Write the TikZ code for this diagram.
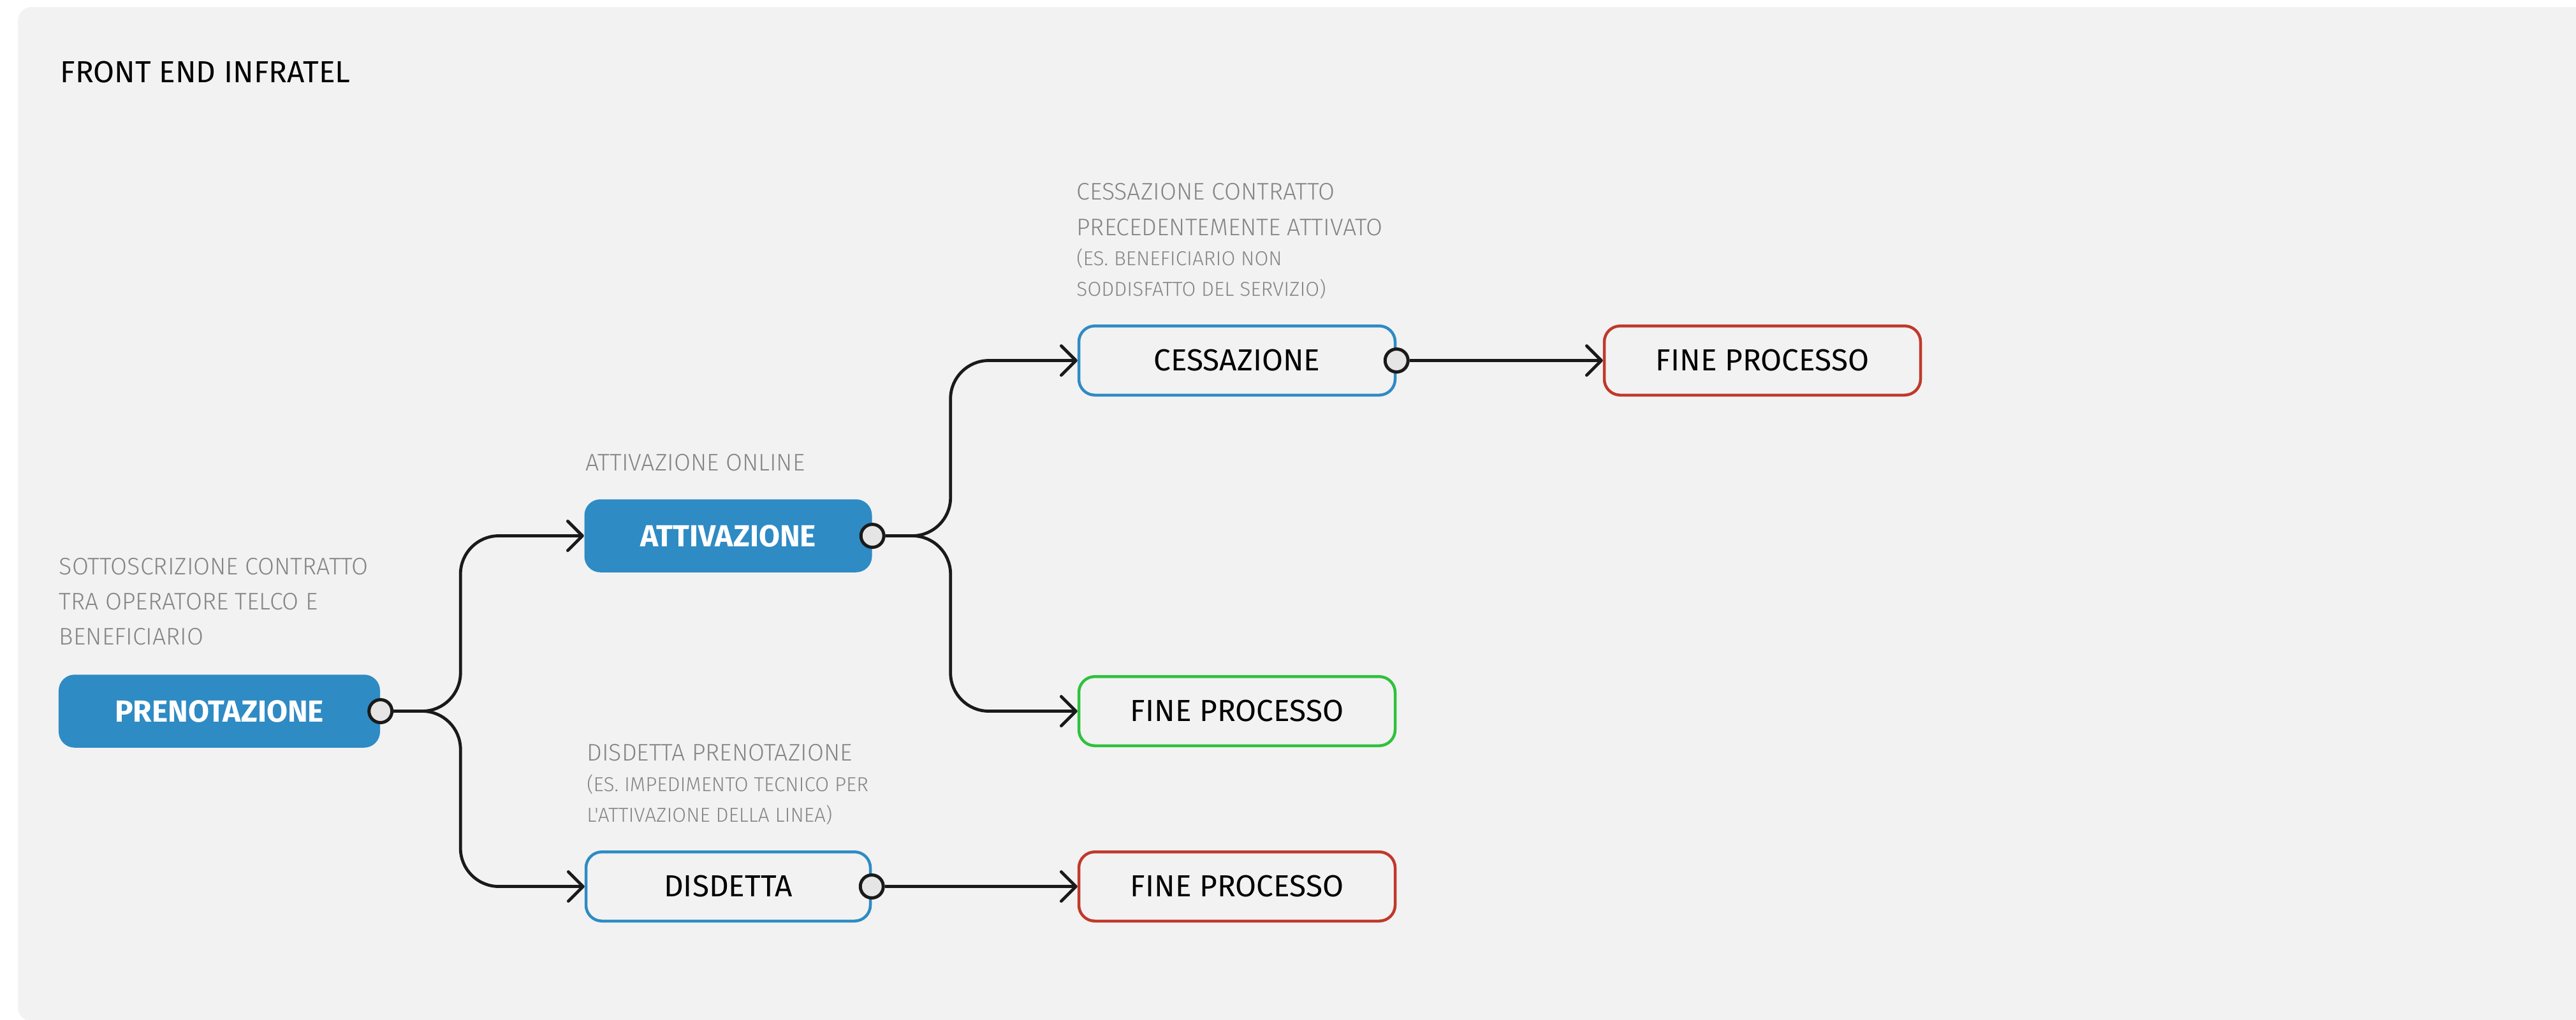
\documentclass[tikz,border=0pt]{standalone}
\usepackage{fontspec}
\setmainfont{Fira Sans}
\newfontfamily\lightfont{Fira Sans Light}
\usetikzlibrary{arrows.meta,positioning}

\definecolor{panelgray}{HTML}{F2F2F2}
\definecolor{boxblue}{HTML}{2E8BC4}
\definecolor{stopred}{HTML}{C0392B}
\definecolor{okgreen}{HTML}{2EC23C}
\definecolor{notegray}{HTML}{858585}
\definecolor{linkblack}{HTML}{1A1A1A}
\definecolor{portgray}{HTML}{E5E5E5}

\tikzset{
  phase/.style={rectangle, rounded corners=2.5mm, inner sep=0pt, font=\fontsize{13.6}{16}\selectfont},
  filled/.style={phase, fill=boxblue, text=white, minimum height=11.45mm, font=\fontsize{13.6}{16}\selectfont\bfseries},
  outlined/.style={phase, draw=#1, line width=0.45mm, fill=panelgray, minimum height=10.85mm},
  note/.style={inner sep=0pt, anchor=north west, align=left, text=notegray, font=\lightfont\fontsize{10.7}{15.7}\selectfont},
  port/.style={circle, draw=linkblack, fill=portgray, line width=0.5mm, minimum size=3.6mm, inner sep=0pt},
  link/.style={draw=linkblack, line width=0.48mm, rounded corners=6mm, -{Straight Barb[length=2.3mm,width=4.6mm,round]}}
}
\newcommand{\smallnote}[1]{{\fontsize{9}{13.6}\selectfont #1}}

\begin{document}
\begin{tikzpicture}[x=1mm, y=-1mm, node distance=27.5mm and 79.8mm, on grid]
    \useasboundingbox (0,0) rectangle (404,159.9);
    \fill[panelgray, rounded corners=2.2mm] (2.8,1.1) rectangle (420,160.2);

    \node[anchor=north west, inner sep=0pt, font=\fontsize{13.6}{16}\selectfont] (title) at (9.4,9.5) {FRONT END INFRATEL};

    % phases
    \node[filled, minimum width=50.4mm] (pren) at (34.4,111.55) {PRENOTAZIONE};
    \node[filled, minimum width=45.1mm] (attiv) [above right=of pren] {ATTIVAZIONE};
    \node[outlined=boxblue, minimum width=44.6mm] (disd) [below right=of pren] {DISDETTA};
    \node[outlined=boxblue, minimum width=49.6mm] (cess) [above right=of attiv] {CESSAZIONE};
    \node[outlined=okgreen, minimum width=49.6mm] (fineOk) [below right=of attiv] {FINE PROCESSO};
    \node[outlined=stopred, minimum width=49.6mm] (fineKo) [right=of disd] {FINE PROCESSO};
    \node[outlined=stopred, minimum width=49.6mm] (fineCess) [right=82.4mm of cess] {FINE PROCESSO};

    % notes
    \node[note] (prenNote) at ([xshift=0.1mm,yshift=18.3mm]pren.north west)
        {SOTTOSCRIZIONE CONTRATTO\\TRA OPERATORE TELCO E\\BENEFICIARIO};
    \node[note] (attivNote) at ([xshift=0.2mm,yshift=7.05mm]attiv.north west) {ATTIVAZIONE ONLINE};
    \node[note] (cessNote) at ([xshift=-0.2mm,yshift=22.2mm]cess.north west)
        {CESSAZIONE CONTRATTO\\PRECEDENTEMENTE ATTIVATO\\[-2.1pt]
         \smallnote{(ES. BENEFICIARIO NON}\\[-2.1pt]\smallnote{SODDISFATTO DEL SERVIZIO)}};
    \node[note] (disdNote) at ([xshift=0.3mm,yshift=16.7mm]disd.north west)
        {DISDETTA PRENOTAZIONE\\[-2.1pt]
         \smallnote{(ES. IMPEDIMENTO TECNICO PER}\\[-2.1pt]\smallnote{L'ATTIVAZIONE DELLA LINEA)}};

    % ports
    \node[port] (prenPort) at (pren.east) {};
    \node[port] (attivPort) at (attiv.east) {};
    \node[port] (cessPort) at (cess.east) {};
    \node[port] (disdPort) at (disd.east) {};

    % links
    \path[link] (prenPort.east) -- ++(10.5,0) |- (attiv.west);
    \path[link] (prenPort.east) -- ++(10.5,0) |- (disd.west);
    \path[link] (attivPort.east) -- ++(10.2,0) |- (cess.west);
    \path[link] (attivPort.east) -- ++(10.2,0) |- (fineOk.west);
    \path[link] (cessPort.east) -- (fineCess.west);
    \path[link] (disdPort.east) -- (fineKo.west);
\end{tikzpicture}
\end{document}
